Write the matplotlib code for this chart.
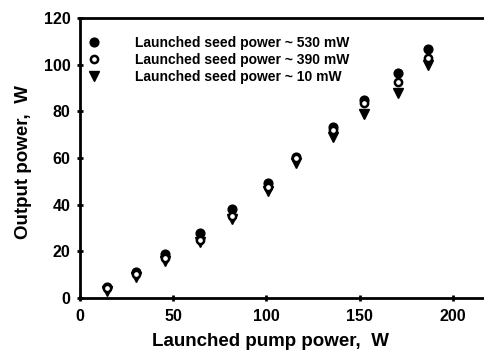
import matplotlib
matplotlib.use("Agg")
import matplotlib.pyplot as plt

pump = [14.5, 30.0, 45.6, 64.3, 81.5, 100.8, 115.6, 135.5, 152.5, 170.7, 186.8]
out_530 = [4.8, 11.0, 19.0, 27.7, 38.2, 49.5, 60.5, 73.4, 84.8, 96.3, 106.5]
out_390 = [4.3, 10.3, 17.2, 24.8, 35.2, 47.5, 59.8, 72.0, 83.7, 92.6, 102.8]
out_10 = [3.2, 8.8, 15.8, 24.2, 34.0, 46.0, 57.8, 68.9, 78.8, 88.0, 99.9]
labels = ["Launched seed power ~ 530 mW",
          "Launched seed power ~ 390 mW",
          "Launched seed power ~ 10 mW"]

plt.rcParams['font.family'] = ['Liberation Sans', 'DejaVu Sans']
plt.rcParams['font.weight'] = 'bold'

W, H = 485, 354
fig = plt.figure(figsize=(W/100, H/100), dpi=100)
ax = fig.add_axes([80/W, (H-298)/H, 1 - 80/W + 0.01, (298-18)/H])

ax.plot(pump, out_530, 'o', color='black', ms=6.3, label=labels[0], zorder=3)
ax.plot(pump, out_390, 'o', mfc='white', mec='black', mew=1.8, ms=5.2, label=labels[1], zorder=4)
ax.plot(pump, out_10, 'v', color='black', ms=6.8, label=labels[2], zorder=2)

ax.set_xlim(0, 219.8)
ax.set_ylim(0, 120)
ax.set_xticks([0, 50, 100, 150, 200])
ax.set_yticks([0, 20, 40, 60, 80, 100, 120])
for s in ['left', 'bottom', 'top']:
    ax.spines[s].set_linewidth(2)
ax.spines['right'].set_visible(False)
ax.tick_params(axis='both', direction='inout', length=4, width=2, labelsize=11.5, pad=5)
ax.tick_params(axis='x', pad=6)
for t in ax.get_xticklabels() + ax.get_yticklabels():
    t.set_fontweight('bold')

leg = ax.legend(loc='upper left', bbox_to_anchor=(-0.012, 0.972), frameon=False,
                prop={'weight': 'bold', 'size': 10}, handletextpad=2.3,
                labelspacing=0.22, borderaxespad=0.3, handlelength=1.3)

fig.text(270/W, 1 - 342/H, "Launched pump power,  W", ha='center', va='center',
         fontsize=13.5, fontweight='bold')
fig.text(24/W, 1 - 162/H, "Output power,  W", ha='center', va='center',
         rotation=90, fontsize=13.5, fontweight='bold')

fig.savefig("out.png", dpi=100)
